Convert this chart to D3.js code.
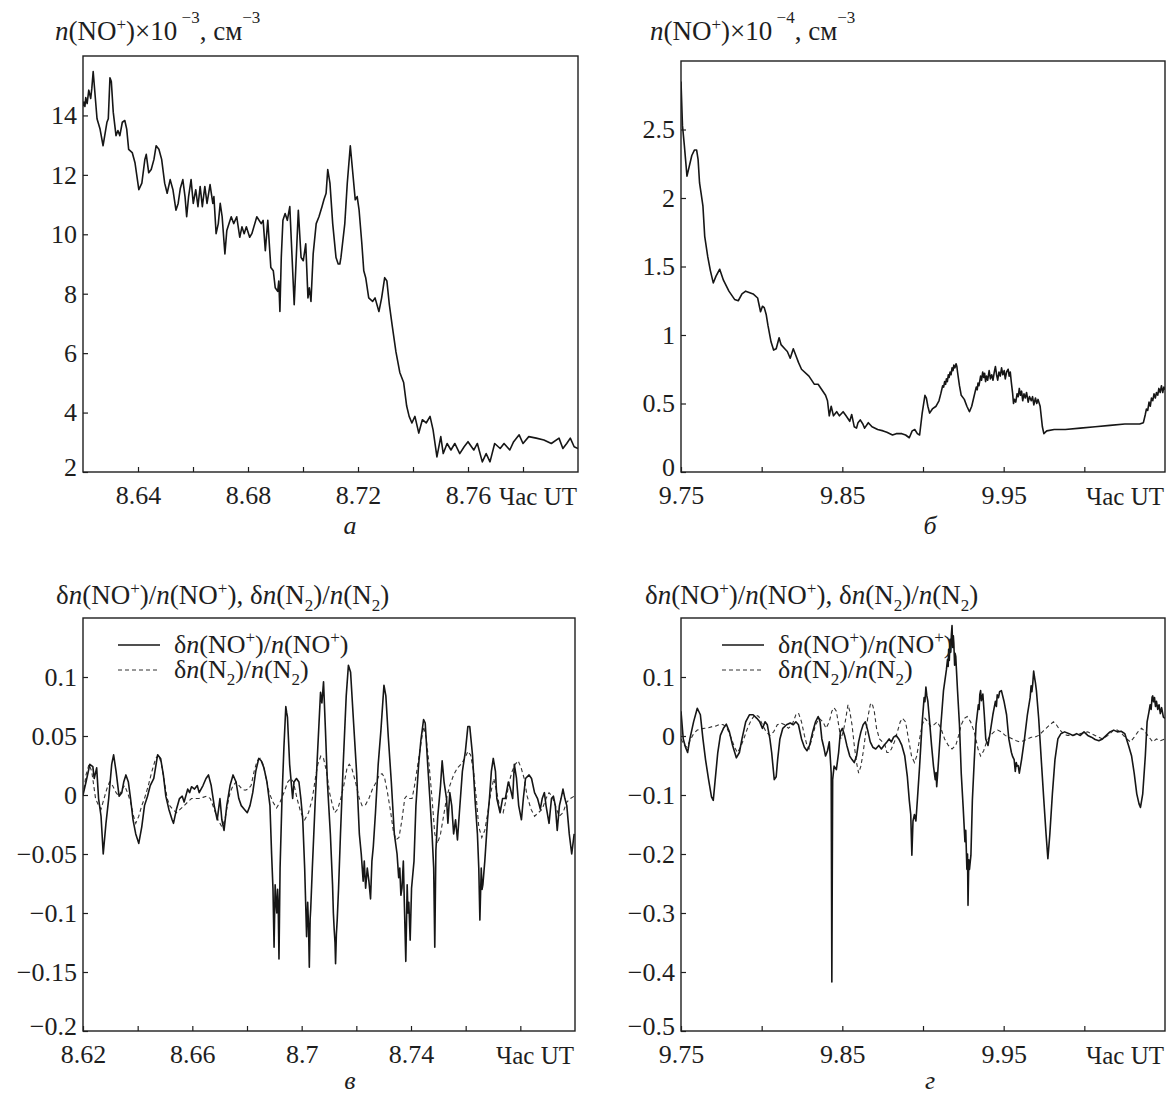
<!DOCTYPE html>
<html>
<head>
<meta charset="utf-8">
<style>
  body { margin: 0; background: #fff; }
  svg { display: block; font-family: "Liberation Serif", "DejaVu Serif", "Times New Roman", serif; }
  .frame { fill: none; stroke: #1e1e1e; stroke-width: 1.4px; }
  .tick line { stroke: #1e1e1e; stroke-width: 1.2px; }
  .tick text { font-size: 26px; fill: #1e1e1e; }
  .domain { display: none; }
  .title { font-size: 27px; fill: #1e1e1e; }
  .legend-label { font-size: 26px; fill: #1e1e1e; }
  .unit { font-size: 25px; fill: #1e1e1e; }
  .caption { font-size: 26px; font-style: italic; fill: #1e1e1e; }
  .line-solid { fill: none; stroke: #161616; stroke-width: 1.6px; stroke-linejoin: round; }
  .line-dash { fill: none; stroke: #333; stroke-width: 1.1px; stroke-dasharray: 4 3; }
</style>
</head>
<body>
<svg width="1173" height="1097"></svg>
<script src="https://d3js.org/d3.v7.min.js"></script>
<script>
// ---- panel a: n(NO+) x 1e-3, 8.62-8.80 h UT
const xTicksA = [8.64, 8.66, 8.68, 8.70, 8.72, 8.74, 8.76, 8.78];
const xLabelsA = [8.64, 8.68, 8.72, 8.76];
const yTicksA = [2, 4, 6, 8, 10, 12, 14];
const noA = [[8.6196,14.23],[8.6203,14.45],[8.6207,14.30],[8.6210,14.60],[8.6215,14.40],[8.6221,14.85],[8.6228,14.57],[8.6232,14.90],[8.6237,15.48],[8.6251,13.89],[8.6262,13.54],[8.6273,12.98],[8.6287,13.77],[8.6292,13.89],[8.6298,15.27],[8.6303,15.14],[8.6310,14.11],[8.6320,13.32],[8.6327,13.49],[8.6334,13.32],[8.6343,13.77],[8.6352,13.83],[8.6359,13.54],[8.6366,12.86],[8.6379,12.75],[8.6389,12.41],[8.6403,11.50],[8.6414,11.72],[8.6425,12.52],[8.6430,12.69],[8.6439,12.07],[8.6448,12.18],[8.6458,12.52],[8.6466,12.98],[8.6476,12.86],[8.6486,12.52],[8.6497,11.72],[8.6506,11.38],[8.6517,11.84],[8.6527,11.50],[8.6538,10.81],[8.6546,11.04],[8.6554,11.55],[8.6563,11.84],[8.6571,11.27],[8.6577,10.59],[8.6584,11.27],[8.6593,11.84],[8.6601,11.04],[8.6610,11.50],[8.6618,10.93],[8.6626,11.61],[8.6634,10.93],[8.6643,11.61],[8.6651,11.04],[8.6662,11.67],[8.6672,11.04],[8.6676,11.27],[8.6684,10.02],[8.6692,10.36],[8.6699,11.04],[8.6706,10.59],[8.6716,9.34],[8.6723,10.13],[8.6731,10.36],[8.6739,10.59],[8.6748,10.36],[8.6759,10.59],[8.6770,9.90],[8.6778,10.25],[8.6786,10.02],[8.6794,10.25],[8.6806,9.90],[8.6814,10.02],[8.6832,10.59],[8.6848,10.36],[8.6855,10.47],[8.6863,9.45],[8.6872,10.47],[8.6883,8.88],[8.6892,8.77],[8.6899,8.20],[8.6908,8.08],[8.6912,8.43],[8.6916,7.40],[8.6921,9.22],[8.6927,10.47],[8.6935,10.70],[8.6943,10.47],[8.6952,10.93],[8.6968,7.63],[8.6983,10.81],[8.6993,9.22],[8.7001,9.11],[8.7010,9.68],[8.7018,7.86],[8.7023,8.20],[8.7029,7.74],[8.7037,9.34],[8.7048,10.36],[8.7058,10.59],[8.7069,10.93],[8.7076,11.16],[8.7084,11.38],[8.7090,12.18],[8.7098,11.72],[8.7108,10.36],[8.7120,9.22],[8.7128,9.00],[8.7134,9.00],[8.7138,9.22],[8.7152,10.36],[8.7161,11.72],[8.7172,12.98],[8.7181,12.07],[8.7190,11.16],[8.7197,11.27],[8.7204,10.81],[8.7214,9.68],[8.7221,8.77],[8.7228,8.54],[8.7239,7.86],[8.7253,7.74],[8.7262,7.86],[8.7276,7.40],[8.7286,7.86],[8.7297,8.54],[8.7305,8.43],[8.7314,7.63],[8.7324,6.95],[8.7338,6.04],[8.7352,5.35],[8.7366,5.01],[8.7377,4.22],[8.7386,3.87],[8.7396,3.65],[8.7407,3.87],[8.7421,3.31],[8.7434,3.76],[8.7448,3.65],[8.7462,3.87],[8.7473,3.42],[8.7487,2.51],[8.7501,3.19],[8.7510,2.62],[8.7524,2.96],[8.7538,2.74],[8.7552,2.96],[8.7570,2.62],[8.7586,2.85],[8.7600,3.02],[8.7621,2.74],[8.7634,2.96],[8.7652,2.34],[8.7666,2.62],[8.7680,2.34],[8.7697,2.96],[8.7717,2.79],[8.7731,2.96],[8.7752,2.74],[8.7766,3.02],[8.7786,3.25],[8.7800,2.96],[8.7821,3.19],[8.7848,3.14],[8.7876,3.08],[8.7903,2.96],[8.7931,3.14],[8.7945,2.79],[8.7959,2.96],[8.7972,3.14],[8.7986,2.85],[8.8000,2.79]];

// ---- panel b: n(NO+) x 1e-4, 9.75-10.05 h UT
const xTicksB = [9.75, 9.80, 9.85, 9.90, 9.95, 10.00];
const xLabelsB = [9.75, 9.85, 9.95];
const yTicksB = [0, 0.5, 1, 1.5, 2, 2.5];
const noB = [[9.7500,2.85],[9.7509,2.53],[9.7521,2.38],[9.7537,2.16],[9.7551,2.23],[9.7567,2.31],[9.7583,2.35],[9.7597,2.35],[9.7606,2.28],[9.7615,2.11],[9.7624,2.04],[9.7636,1.94],[9.7647,1.72],[9.7666,1.57],[9.7682,1.47],[9.7700,1.38],[9.7717,1.43],[9.7740,1.48],[9.7763,1.40],[9.7797,1.32],[9.7832,1.26],[9.7855,1.25],[9.7878,1.30],[9.7901,1.32],[9.7947,1.30],[9.7975,1.27],[9.7993,1.17],[9.8005,1.21],[9.8016,1.20],[9.8028,1.15],[9.8039,1.07],[9.8058,0.95],[9.8074,0.89],[9.8090,0.90],[9.8108,0.98],[9.8120,0.93],[9.8143,0.90],[9.8159,0.88],[9.8177,0.83],[9.8196,0.90],[9.8212,0.85],[9.8228,0.80],[9.8247,0.75],[9.8293,0.70],[9.8327,0.64],[9.8350,0.64],[9.8373,0.60],[9.8396,0.56],[9.8408,0.52],[9.8419,0.41],[9.8431,0.48],[9.8445,0.41],[9.8465,0.44],[9.8482,0.41],[9.8505,0.44],[9.8523,0.41],[9.8546,0.37],[9.8558,0.42],[9.8574,0.33],[9.8588,0.32],[9.8597,0.36],[9.8611,0.38],[9.8627,0.35],[9.8638,0.32],[9.8661,0.36],[9.8684,0.33],[9.8719,0.31],[9.8753,0.30],[9.8776,0.29],[9.8811,0.27],[9.8834,0.28],[9.8869,0.28],[9.8892,0.27],[9.8915,0.25],[9.8933,0.30],[9.8949,0.31],[9.8965,0.28],[9.8979,0.27],[9.8995,0.43],[9.9012,0.56],[9.9021,0.54],[9.9030,0.48],[9.9041,0.43],[9.9058,0.46],[9.9081,0.48],[9.9099,0.52],[9.9110,0.57],[9.9116,0.60],[9.9122,0.63],[9.9128,0.62],[9.9134,0.66],[9.9140,0.64],[9.9145,0.68],[9.9151,0.66],[9.9157,0.71],[9.9162,0.69],[9.9168,0.73],[9.9174,0.71],[9.9180,0.76],[9.9186,0.74],[9.9191,0.78],[9.9198,0.76],[9.9205,0.79],[9.9210,0.77],[9.9214,0.73],[9.9226,0.63],[9.9237,0.56],[9.9256,0.53],[9.9272,0.48],[9.9288,0.44],[9.9302,0.48],[9.9318,0.56],[9.9330,0.62],[9.9336,0.60],[9.9341,0.65],[9.9347,0.63],[9.9357,0.70],[9.9363,0.67],[9.9370,0.73],[9.9376,0.69],[9.9382,0.72],[9.9388,0.66],[9.9394,0.70],[9.9401,0.67],[9.9410,0.74],[9.9418,0.68],[9.9426,0.71],[9.9434,0.67],[9.9442,0.73],[9.9449,0.77],[9.9456,0.71],[9.9463,0.67],[9.9471,0.73],[9.9479,0.70],[9.9487,0.76],[9.9495,0.71],[9.9503,0.74],[9.9510,0.68],[9.9518,0.73],[9.9528,0.75],[9.9534,0.70],[9.9541,0.73],[9.9547,0.66],[9.9555,0.58],[9.9561,0.50],[9.9567,0.53],[9.9575,0.51],[9.9583,0.57],[9.9590,0.55],[9.9597,0.61],[9.9604,0.56],[9.9611,0.59],[9.9618,0.52],[9.9626,0.57],[9.9634,0.54],[9.9642,0.58],[9.9652,0.51],[9.9660,0.55],[9.9671,0.52],[9.9679,0.55],[9.9687,0.49],[9.9697,0.54],[9.9705,0.50],[9.9713,0.53],[9.9726,0.48],[9.9740,0.33],[9.9749,0.28],[9.9767,0.30],[9.9813,0.31],[9.9882,0.31],[9.9975,0.32],[10.0067,0.33],[10.0159,0.34],[10.0251,0.35],[10.0343,0.35],[10.0366,0.36],[10.0378,0.42],[10.0385,0.46],[10.0393,0.45],[10.0401,0.51],[10.0409,0.48],[10.0416,0.54],[10.0424,0.52],[10.0432,0.57],[10.0440,0.54],[10.0447,0.58],[10.0455,0.56],[10.0462,0.61],[10.0470,0.58],[10.0478,0.63],[10.0486,0.58],[10.0493,0.62],[10.0500,0.60]];

// ---- panel c: relative fluctuations, 8.62-8.80 h UT
const xTicksC = [8.62, 8.64, 8.66, 8.68, 8.70, 8.72, 8.74, 8.76, 8.78];
const xLabelsC = [8.62, 8.66, 8.70, 8.74];
const yTicksC = [-0.2, -0.15, -0.1, -0.05, 0, 0.05, 0.1];
const relNOc = [[8.6200,0.000],[8.6211,0.011],[8.6225,0.026],[8.6236,0.024],[8.6241,0.014],[8.6250,0.023],[8.6257,-0.003],[8.6266,-0.018],[8.6274,-0.050],[8.6284,-0.024],[8.6294,-0.003],[8.6305,0.026],[8.6312,0.034],[8.6321,0.020],[8.6332,-0.001],[8.6342,0.002],[8.6349,0.011],[8.6357,0.017],[8.6366,0.011],[8.6374,-0.003],[8.6383,-0.021],[8.6393,-0.033],[8.6404,-0.041],[8.6415,-0.027],[8.6425,-0.009],[8.6436,-0.001],[8.6446,0.008],[8.6459,0.014],[8.6473,0.034],[8.6484,0.031],[8.6494,0.017],[8.6503,-0.001],[8.6514,-0.012],[8.6526,-0.021],[8.6531,-0.024],[8.6542,-0.012],[8.6553,-0.003],[8.6563,-0.001],[8.6570,-0.006],[8.6583,0.005],[8.6590,0.002],[8.6597,0.007],[8.6608,0.005],[8.6618,0.008],[8.6625,0.002],[8.6639,0.008],[8.6650,0.014],[8.6659,0.017],[8.6669,0.008],[8.6680,-0.009],[8.6691,-0.021],[8.6701,-0.003],[8.6708,-0.021],[8.6716,-0.030],[8.6726,-0.009],[8.6738,0.008],[8.6749,0.017],[8.6760,0.011],[8.6770,-0.003],[8.6779,-0.009],[8.6790,-0.012],[8.6801,-0.015],[8.6811,-0.009],[8.6821,0.002],[8.6832,0.020],[8.6843,0.031],[8.6852,0.029],[8.6862,0.023],[8.6873,0.011],[8.6884,-0.009],[8.6890,-0.050],[8.6895,-0.079],[8.6899,-0.129],[8.6903,-0.076],[8.6906,-0.090],[8.6909,-0.100],[8.6912,-0.080],[8.6914,-0.091],[8.6917,-0.139],[8.6921,-0.062],[8.6928,-0.003],[8.6935,0.040],[8.6942,0.075],[8.6945,0.070],[8.6948,0.066],[8.6956,0.026],[8.6967,-0.003],[8.6972,0.011],[8.6981,0.014],[8.6990,0.011],[8.6997,-0.003],[8.7004,-0.021],[8.7011,-0.062],[8.7015,-0.095],[8.7018,-0.120],[8.7022,-0.091],[8.7025,-0.110],[8.7028,-0.146],[8.7031,-0.105],[8.7033,-0.097],[8.7039,-0.062],[8.7050,-0.003],[8.7059,0.040],[8.7069,0.087],[8.7074,0.078],[8.7080,0.096],[8.7087,0.055],[8.7094,0.011],[8.7105,-0.033],[8.7113,-0.076],[8.7116,-0.100],[8.7119,-0.114],[8.7122,-0.125],[8.7124,-0.143],[8.7127,-0.118],[8.7130,-0.106],[8.7135,-0.079],[8.7142,-0.033],[8.7152,0.026],[8.7163,0.084],[8.7171,0.110],[8.7179,0.104],[8.7190,0.061],[8.7201,0.019],[8.7211,-0.033],[8.7218,-0.050],[8.7225,-0.073],[8.7229,-0.056],[8.7234,-0.079],[8.7240,-0.062],[8.7246,-0.073],[8.7252,-0.088],[8.7257,-0.056],[8.7262,-0.044],[8.7270,-0.015],[8.7280,0.026],[8.7290,0.055],[8.7301,0.093],[8.7308,0.084],[8.7317,0.049],[8.7328,0.011],[8.7339,-0.033],[8.7349,-0.050],[8.7355,-0.070],[8.7359,-0.062],[8.7363,-0.085],[8.7367,-0.079],[8.7372,-0.056],[8.7376,-0.095],[8.7381,-0.141],[8.7386,-0.076],[8.7389,-0.100],[8.7392,-0.091],[8.7397,-0.123],[8.7402,-0.079],[8.7411,-0.056],[8.7418,-0.009],[8.7428,0.026],[8.7436,0.046],[8.7446,0.064],[8.7452,0.061],[8.7461,0.026],[8.7469,-0.003],[8.7477,-0.033],[8.7483,-0.062],[8.7487,-0.129],[8.7491,-0.047],[8.7498,-0.018],[8.7508,0.008],[8.7514,0.029],[8.7521,0.011],[8.7530,-0.003],[8.7535,-0.024],[8.7542,0.002],[8.7549,-0.009],[8.7556,-0.033],[8.7563,-0.021],[8.7570,-0.038],[8.7577,-0.015],[8.7588,0.020],[8.7599,0.037],[8.7608,0.058],[8.7615,0.058],[8.7625,0.034],[8.7634,-0.003],[8.7643,-0.033],[8.7648,-0.062],[8.7652,-0.106],[8.7657,-0.062],[8.7660,-0.080],[8.7663,-0.076],[8.7670,-0.056],[8.7680,-0.021],[8.7687,-0.003],[8.7694,0.020],[8.7701,0.031],[8.7709,0.020],[8.7714,-0.003],[8.7726,-0.015],[8.7735,-0.003],[8.7745,-0.003],[8.7756,0.011],[8.7764,0.005],[8.7772,-0.003],[8.7778,0.026],[8.7786,0.014],[8.7794,-0.009],[8.7804,-0.021],[8.7811,-0.003],[8.7819,0.014],[8.7832,0.017],[8.7841,0.014],[8.7852,0.002],[8.7863,-0.003],[8.7873,-0.012],[8.7880,-0.003],[8.7888,0.002],[8.7894,-0.009],[8.7905,-0.024],[8.7914,-0.003],[8.7921,-0.001],[8.7928,-0.009],[8.7935,-0.030],[8.7943,-0.009],[8.7949,-0.003],[8.7956,0.005],[8.7963,-0.003],[8.7970,-0.009],[8.7979,-0.033],[8.7988,-0.050],[8.7997,-0.033]];
const relN2c = [[8.6200,-0.001],[8.6211,0.017],[8.6222,0.026],[8.6232,0.020],[8.6246,-0.003],[8.6257,-0.009],[8.6266,-0.012],[8.6277,-0.003],[8.6287,0.005],[8.6297,0.011],[8.6308,0.008],[8.6321,0.002],[8.6332,-0.001],[8.6343,0.005],[8.6352,0.008],[8.6363,0.002],[8.6374,-0.006],[8.6385,-0.018],[8.6393,-0.024],[8.6404,-0.018],[8.6415,-0.009],[8.6425,-0.003],[8.6439,0.008],[8.6452,0.020],[8.6466,0.031],[8.6477,0.034],[8.6487,0.026],[8.6498,0.011],[8.6508,-0.003],[8.6517,-0.009],[8.6528,-0.012],[8.6542,-0.015],[8.6556,-0.012],[8.6570,-0.009],[8.6583,-0.006],[8.6597,-0.003],[8.6611,-0.003],[8.6625,-0.003],[8.6639,-0.002],[8.6652,-0.001],[8.6666,-0.003],[8.6680,-0.012],[8.6694,-0.021],[8.6708,-0.027],[8.6719,-0.021],[8.6728,-0.009],[8.6738,0.002],[8.6749,0.008],[8.6760,0.011],[8.6771,0.008],[8.6782,0.005],[8.6793,0.004],[8.6804,0.005],[8.6815,0.008],[8.6826,0.020],[8.6837,0.029],[8.6848,0.031],[8.6859,0.026],[8.6870,0.014],[8.6881,0.002],[8.6895,-0.006],[8.6908,-0.011],[8.6921,-0.006],[8.6935,0.002],[8.6949,0.011],[8.6960,0.014],[8.6970,0.011],[8.6983,-0.003],[8.6997,-0.015],[8.7011,-0.021],[8.7025,-0.015],[8.7039,-0.003],[8.7050,0.014],[8.7059,0.026],[8.7070,0.033],[8.7080,0.031],[8.7091,0.020],[8.7102,0.002],[8.7113,-0.009],[8.7121,-0.015],[8.7132,-0.012],[8.7143,-0.003],[8.7154,0.008],[8.7166,0.023],[8.7174,0.026],[8.7183,0.023],[8.7197,0.011],[8.7211,-0.003],[8.7221,-0.009],[8.7232,-0.009],[8.7246,-0.003],[8.7259,0.005],[8.7273,0.011],[8.7284,0.017],[8.7294,0.018],[8.7303,0.015],[8.7314,0.002],[8.7326,-0.015],[8.7335,-0.030],[8.7345,-0.038],[8.7356,-0.036],[8.7367,-0.021],[8.7377,-0.003],[8.7383,-0.001],[8.7394,-0.003],[8.7404,-0.003],[8.7413,0.008],[8.7425,0.026],[8.7436,0.043],[8.7446,0.058],[8.7455,0.049],[8.7466,0.026],[8.7477,-0.003],[8.7487,-0.033],[8.7497,-0.041],[8.7508,-0.033],[8.7519,-0.018],[8.7530,-0.003],[8.7542,0.008],[8.7556,0.017],[8.7570,0.023],[8.7583,0.026],[8.7597,0.031],[8.7608,0.037],[8.7618,0.034],[8.7629,0.020],[8.7639,-0.003],[8.7648,-0.027],[8.7659,-0.036],[8.7670,-0.030],[8.7681,-0.015],[8.7692,0.002],[8.7703,0.014],[8.7714,0.002],[8.7726,-0.012],[8.7737,-0.015],[8.7749,-0.003],[8.7759,0.011],[8.7770,0.020],[8.7781,0.026],[8.7792,0.029],[8.7803,0.023],[8.7814,0.014],[8.7825,-0.001],[8.7839,-0.012],[8.7852,-0.018],[8.7866,-0.015],[8.7880,-0.012],[8.7894,-0.003],[8.7905,0.002],[8.7916,-0.001],[8.7928,-0.009],[8.7942,-0.018],[8.7956,-0.015],[8.7970,-0.006],[8.7983,-0.003],[8.7997,-0.001]];

// ---- panel d: relative fluctuations, 9.75-10.05 h UT
const xTicksD = [9.75, 9.80, 9.85, 9.90, 9.95, 10.00];
const xLabelsD = [9.75, 9.85, 9.95];
const yTicksD = [-0.5, -0.4, -0.3, -0.2, -0.1, 0, 0.1];
const relNOd = [[9.7500,0.042],[9.7514,-0.005],[9.7528,-0.019],[9.7541,-0.028],[9.7555,-0.005],[9.7578,0.024],[9.7601,0.047],[9.7620,0.036],[9.7636,-0.005],[9.7652,-0.040],[9.7671,-0.074],[9.7689,-0.103],[9.7700,-0.109],[9.7712,-0.074],[9.7728,-0.028],[9.7744,0.001],[9.7763,0.013],[9.7781,0.020],[9.7800,0.007],[9.7820,-0.016],[9.7843,-0.037],[9.7862,-0.028],[9.7878,-0.005],[9.7901,0.024],[9.7924,0.036],[9.7947,0.036],[9.7970,0.030],[9.7988,0.024],[9.8005,0.013],[9.8021,0.024],[9.8035,0.019],[9.8051,-0.005],[9.8062,-0.028],[9.8078,-0.074],[9.8090,-0.069],[9.8099,-0.040],[9.8113,-0.005],[9.8131,0.013],[9.8154,0.019],[9.8177,0.022],[9.8196,0.019],[9.8212,0.024],[9.8228,0.019],[9.8247,-0.005],[9.8265,-0.019],[9.8281,-0.025],[9.8297,-0.016],[9.8316,0.007],[9.8334,0.024],[9.8350,0.033],[9.8362,0.024],[9.8373,-0.005],[9.8385,-0.019],[9.8396,-0.034],[9.8408,-0.025],[9.8419,-0.010],[9.8426,-0.040],[9.8431,-0.063],[9.8435,-0.417],[9.8440,-0.074],[9.8449,-0.051],[9.8463,-0.057],[9.8477,-0.028],[9.8488,0.007],[9.8500,0.013],[9.8514,0.001],[9.8528,-0.016],[9.8546,-0.034],[9.8560,-0.040],[9.8574,-0.045],[9.8588,-0.034],[9.8601,-0.010],[9.8615,0.007],[9.8629,0.019],[9.8643,0.024],[9.8657,0.010],[9.8673,-0.010],[9.8689,-0.019],[9.8707,-0.022],[9.8726,-0.016],[9.8742,-0.022],[9.8758,-0.016],[9.8776,-0.010],[9.8790,-0.005],[9.8804,-0.010],[9.8818,-0.002],[9.8834,0.001],[9.8850,-0.005],[9.8869,-0.016],[9.8887,-0.034],[9.8903,-0.069],[9.8915,-0.109],[9.8924,-0.133],[9.8931,-0.202],[9.8938,-0.144],[9.8947,-0.133],[9.8956,-0.144],[9.8965,-0.109],[9.8979,-0.051],[9.8995,0.024],[9.9007,0.065],[9.9012,0.058],[9.9018,0.083],[9.9024,0.068],[9.9030,0.059],[9.9041,0.024],[9.9053,-0.016],[9.9065,-0.051],[9.9072,-0.066],[9.9076,-0.074],[9.9081,-0.062],[9.9085,-0.086],[9.9094,-0.051],[9.9111,0.019],[9.9127,0.077],[9.9145,0.112],[9.9152,0.130],[9.9156,0.118],[9.9159,0.147],[9.9163,0.128],[9.9168,0.164],[9.9172,0.142],[9.9176,0.172],[9.9180,0.187],[9.9184,0.150],[9.9188,0.170],[9.9191,0.158],[9.9196,0.120],[9.9199,0.140],[9.9203,0.135],[9.9214,0.077],[9.9226,0.019],[9.9237,-0.063],[9.9249,-0.121],[9.9260,-0.179],[9.9265,-0.160],[9.9272,-0.226],[9.9276,-0.200],[9.9279,-0.287],[9.9284,-0.210],[9.9288,-0.226],[9.9297,-0.202],[9.9306,-0.109],[9.9318,-0.040],[9.9329,0.019],[9.9343,0.053],[9.9348,0.045],[9.9352,0.070],[9.9357,0.077],[9.9362,0.060],[9.9371,0.071],[9.9380,0.036],[9.9389,-0.005],[9.9403,-0.016],[9.9417,0.007],[9.9433,0.036],[9.9449,0.059],[9.9455,0.050],[9.9460,0.070],[9.9468,0.065],[9.9475,0.075],[9.9486,0.077],[9.9502,0.059],[9.9518,0.036],[9.9532,-0.005],[9.9548,-0.028],[9.9556,-0.035],[9.9565,-0.040],[9.9572,-0.060],[9.9578,-0.045],[9.9583,-0.051],[9.9590,-0.050],[9.9597,-0.063],[9.9611,-0.040],[9.9629,-0.005],[9.9647,0.036],[9.9664,0.065],[9.9670,0.085],[9.9675,0.075],[9.9680,0.088],[9.9686,0.110],[9.9691,0.100],[9.9697,0.090],[9.9703,0.077],[9.9717,0.030],[9.9733,-0.040],[9.9749,-0.109],[9.9763,-0.167],[9.9774,-0.208],[9.9786,-0.167],[9.9802,-0.098],[9.9818,-0.040],[9.9836,-0.005],[9.9855,0.004],[9.9878,0.007],[9.9906,0.004],[9.9929,0.001],[9.9952,0.004],[9.9975,0.001],[9.9998,0.007],[10.0021,0.001],[10.0044,-0.002],[10.0067,-0.006],[10.0090,-0.008],[10.0113,-0.005],[10.0136,0.001],[10.0159,0.007],[10.0182,0.010],[10.0205,0.007],[10.0228,0.008],[10.0251,0.004],[10.0274,-0.016],[10.0293,-0.034],[10.0309,-0.063],[10.0325,-0.098],[10.0339,-0.115],[10.0348,-0.121],[10.0362,-0.098],[10.0378,-0.034],[10.0389,0.024],[10.0400,0.040],[10.0408,0.053],[10.0414,0.045],[10.0420,0.066],[10.0424,0.068],[10.0429,0.058],[10.0435,0.065],[10.0441,0.050],[10.0447,0.059],[10.0455,0.045],[10.0463,0.053],[10.0471,0.038],[10.0479,0.048],[10.0490,0.032],[10.0500,0.030]];
const relN2d = [[9.7500,-0.005],[9.7521,-0.016],[9.7537,-0.019],[9.7555,-0.008],[9.7578,0.004],[9.7601,0.010],[9.7624,0.012],[9.7647,0.013],[9.7671,0.014],[9.7694,0.016],[9.7717,0.017],[9.7740,0.020],[9.7763,0.019],[9.7786,0.013],[9.7809,-0.002],[9.7832,-0.019],[9.7850,-0.028],[9.7869,-0.019],[9.7889,-0.005],[9.7912,0.013],[9.7935,0.027],[9.7959,0.036],[9.7982,0.033],[9.8005,0.019],[9.8028,0.007],[9.8051,0.001],[9.8074,0.007],[9.8097,0.019],[9.8120,0.022],[9.8143,0.019],[9.8166,0.013],[9.8189,0.019],[9.8212,0.036],[9.8228,0.039],[9.8247,0.024],[9.8265,0.001],[9.8281,-0.016],[9.8293,-0.022],[9.8311,-0.005],[9.8334,0.019],[9.8357,0.030],[9.8380,0.024],[9.8399,0.013],[9.8419,0.024],[9.8435,0.042],[9.8449,0.048],[9.8463,0.042],[9.8477,0.019],[9.8491,-0.005],[9.8505,0.007],[9.8518,0.024],[9.8535,0.053],[9.8546,0.042],[9.8560,0.019],[9.8574,-0.016],[9.8588,-0.045],[9.8601,-0.063],[9.8615,-0.051],[9.8629,-0.028],[9.8643,0.001],[9.8657,0.030],[9.8673,0.053],[9.8684,0.056],[9.8698,0.042],[9.8712,0.013],[9.8730,-0.005],[9.8749,-0.010],[9.8765,-0.016],[9.8776,-0.028],[9.8790,-0.028],[9.8804,-0.022],[9.8823,-0.010],[9.8841,0.007],[9.8859,0.024],[9.8873,0.030],[9.8892,0.024],[9.8910,-0.005],[9.8929,-0.034],[9.8947,-0.045],[9.8961,-0.034],[9.8979,-0.005],[9.8995,0.019],[9.9012,0.030],[9.9030,0.024],[9.9048,0.016],[9.9067,0.019],[9.9088,0.024],[9.9111,0.013],[9.9134,-0.005],[9.9157,-0.016],[9.9180,-0.022],[9.9203,-0.016],[9.9221,0.001],[9.9237,0.019],[9.9256,0.030],[9.9274,0.033],[9.9295,0.024],[9.9318,0.007],[9.9341,-0.022],[9.9357,-0.034],[9.9376,-0.025],[9.9394,-0.010],[9.9417,0.001],[9.9440,0.007],[9.9463,0.010],[9.9486,0.007],[9.9509,0.001],[9.9532,-0.002],[9.9555,-0.005],[9.9578,-0.008],[9.9601,-0.010],[9.9624,-0.008],[9.9647,-0.005],[9.9671,-0.002],[9.9694,-0.002],[9.9717,0.001],[9.9740,0.007],[9.9763,0.013],[9.9786,0.019],[9.9809,0.024],[9.9827,0.019],[9.9848,0.010],[9.9871,0.004],[9.9894,0.001],[9.9929,0.001],[9.9975,0.004],[10.0021,0.007],[10.0067,0.001],[10.0113,-0.005],[10.0147,0.001],[10.0182,0.010],[10.0205,0.010],[10.0233,0.004],[10.0263,-0.005],[10.0286,-0.010],[10.0309,-0.002],[10.0332,0.007],[10.0355,0.013],[10.0378,0.007],[10.0401,-0.002],[10.0424,-0.010],[10.0447,-0.005],[10.0470,-0.008],[10.0500,-0.005]];

// text pieces: [text, style] where style is "i" italic, "sup", "sub"
const titleA = [["n","i"],["(NO"],["+","sup"],[")×10"],[" −3","sup"],[", см"],["−3","sup"]];
const titleB = [["n","i"],["(NO"],["+","sup"],[")×10"],[" −4","sup"],[", см"],["−3","sup"]];
const titleRel = [["δ"],["n","i"],["(NO"],["+","sup"],[")/"],["n","i"],["(NO"],["+","sup"],["), δ"],["n","i"],["(N"],["2","sub"],[")/"],["n","i"],["(N"],["2","sub"],[")"]];
const legendNO = [["δ"],["n","i"],["(NO"],["+","sup"],[")/"],["n","i"],["(NO"],["+","sup"],[")"]];
const legendN2 = [["δ"],["n","i"],["(N"],["2","sub"],[")/"],["n","i"],["(N"],["2","sub"],[")"]];
const unitLabel = "Час UT";

const svg = d3.select("svg");
const fmt = d3.format("~g");

function richText(parent, x, y, pieces, cls) {
    let t = parent.append("text").attr("class", cls).attr("x", x).attr("y", y);
    let cur = 0;
    pieces.forEach(p => {
        let off = p[1] == "sup" ? (p[0].length > 1 ? -17 : -10) : p[1] == "sub" ? 7 : 0;
        let s = t.append("tspan").text(p[0]).attr("dy", off - cur);
        if (p[1] == "i") s.style("font-style", "italic");
        if (p[1] == "sup" || p[1] == "sub") s.style("font-size", "17px");
        cur = off;
    });
    return t;
}

let panels = [
    { id: "a", left: 83, right: 578, top: 56, bottom: 472, xDom: [8.62, 8.80], yDom: [2, 16],
      xTicks: xTicksA, xLabels: xLabelsA, yTicks: yTicksA, lines: [noA], dashed: [],
      title: titleA, titleX: 55, titleY: 40, caption: "а", capX: 350, capY: 534 },
    { id: "b", left: 681, right: 1165, top: 61, bottom: 472, xDom: [9.75, 10.05], yDom: [0, 3],
      xTicks: xTicksB, xLabels: xLabelsB, yTicks: yTicksB, lines: [noB], dashed: [],
      title: titleB, titleX: 650, titleY: 40, caption: "б", capX: 930, capY: 534 },
    { id: "c", left: 83, right: 575, top: 618, bottom: 1031, xDom: [8.62, 8.80], yDom: [-0.2, 0.15],
      xTicks: xTicksC, xLabels: xLabelsC, yTicks: yTicksC, lines: [relNOc], dashed: [relN2c],
      title: titleRel, titleX: 56, titleY: 604, caption: "в", capX: 350, capY: 1089,
      legendX: 118, legendY: 645 },
    { id: "d", left: 681, right: 1165, top: 618, bottom: 1031, xDom: [9.75, 10.05], yDom: [-0.5, 0.2],
      xTicks: xTicksD, xLabels: xLabelsD, yTicks: yTicksD, lines: [relNOd], dashed: [relN2d],
      title: titleRel, titleX: 645, titleY: 604, caption: "г", capX: 930, capY: 1089,
      legendX: 722, legendY: 645 }
];

panels.forEach(p => {
    let x = d3.scaleLinear().domain(p.xDom).range([p.left, p.right]);
    let y = d3.scaleLinear().domain(p.yDom).range([p.bottom, p.top]);
    let g = svg.append("g").attr("class", "panel-" + p.id);

    g.append("clipPath").attr("id", "clip-" + p.id)
        .append("rect")
        .attr("x", p.left).attr("y", p.top)
        .attr("width", p.right - p.left).attr("height", p.bottom - p.top);

    let line = d3.line().x(d => x(d[0])).y(d => y(d[1]));

    let plot = g.append("g").attr("clip-path", `url(#clip-${p.id})`);
    plot.selectAll(".line-dash")
        .data(p.dashed)
        .join("path")
        .attr("class", "line-dash")
        .attr("d", line);
    plot.selectAll(".line-solid")
        .data(p.lines)
        .join("path")
        .attr("class", "line-solid")
        .attr("d", line);

    // axes with inward ticks; drop d3's sans-serif font attributes
    g.append("g")
        .attr("class", "x axis")
        .attr("transform", `translate(0,${p.bottom})`)
        .call(d3.axisBottom(x)
            .tickValues(p.xTicks)
            .tickSizeInner(-5)
            .tickSizeOuter(0)
            .tickPadding(14)
            .tickFormat(d => p.xLabels.includes(d) ? fmt(d) : ""))
        .attr("font-family", null)
        .attr("font-size", null);

    let yAxis = g.append("g")
        .attr("class", "y axis")
        .attr("transform", `translate(${p.left},0)`)
        .call(d3.axisLeft(y)
            .tickValues(p.yTicks)
            .tickSizeInner(-5)
            .tickSizeOuter(0)
            .tickPadding(6)
            .tickFormat(fmt))
        .attr("font-family", null)
        .attr("font-size", null);
    // lowest label sits a little above the bottom frame line
    yAxis.selectAll(".tick text")
        .filter(d => d == p.yDom[0])
        .attr("y", -5);

    g.append("rect")
        .attr("class", "frame")
        .attr("x", p.left).attr("y", p.top)
        .attr("width", p.right - p.left).attr("height", p.bottom - p.top);

    g.append("text")
        .attr("class", "unit")
        .attr("x", p.right - 1)
        .attr("y", p.bottom + 33)
        .attr("text-anchor", "end")
        .text(unitLabel);

    richText(g, p.titleX, p.titleY, p.title, "title");

    g.append("text")
        .attr("class", "caption")
        .attr("x", p.capX).attr("y", p.capY)
        .attr("text-anchor", "middle")
        .text(p.caption);

    if (p.legendX) {
        g.append("line").attr("class", "line-solid")
            .attr("x1", p.legendX).attr("x2", p.legendX + 42)
            .attr("y1", p.legendY).attr("y2", p.legendY);
        g.append("line").attr("class", "line-dash")
            .attr("x1", p.legendX).attr("x2", p.legendX + 42)
            .attr("y1", p.legendY + 25).attr("y2", p.legendY + 25);
        richText(g, p.legendX + 56, p.legendY + 8, legendNO, "legend-label");
        richText(g, p.legendX + 56, p.legendY + 33, legendN2, "legend-label");
    }
});
</script>
</body>
</html>
